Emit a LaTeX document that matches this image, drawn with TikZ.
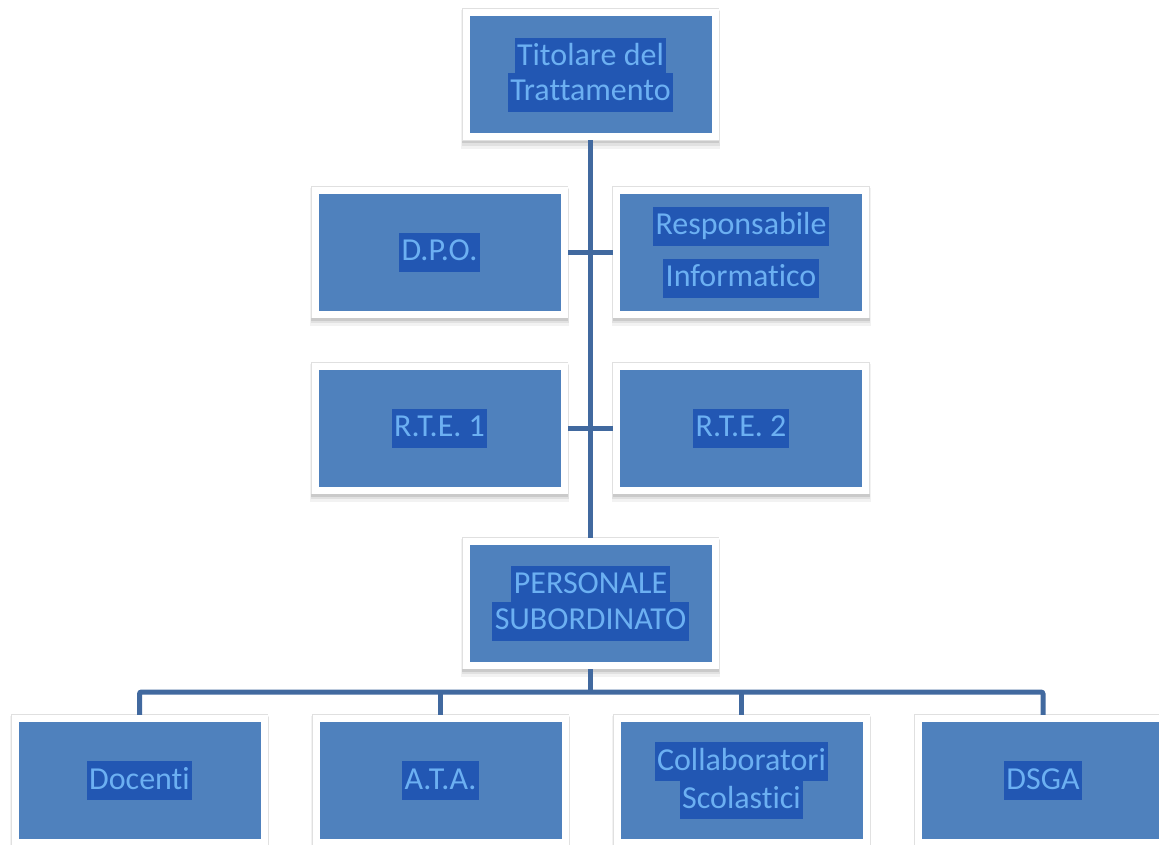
\documentclass[tikz,border=0pt]{standalone}
\usepackage{fontspec}
\setmainfont{Carlito}[Ligatures=NoCommon]
\usetikzlibrary{backgrounds}
\definecolor{boxblue}{HTML}{4F81BD}
\definecolor{hlblue}{HTML}{2257B3}
\definecolor{txtblue}{HTML}{6CB0F2}
\definecolor{connblue}{HTML}{41699F}
\newcommand{\hlt}[1]{{\setlength{\fboxsep}{0pt}\colorbox{hlblue}{\rule[-11pt]{0pt}{39pt}\hspace{2.5pt}#1\hspace{2.5pt}}}}
\newcommand{\orgfont}{\fontsize{32}{36}\selectfont\setlength{\lineskiplimit}{-50pt}\setlength{\lineskip}{0pt}}
\tikzset{
  orgbox/.style={rectangle, fill=boxblue, draw=white, line width=7pt,
    minimum width=249pt, minimum height=124pt, inner sep=0pt,
    align=center, text=txtblue, font=\orgfont},
  conn/.style={draw=connblue, line width=5pt},
  shade1/.style={fill=black, opacity=0.05},
  shade2/.style={fill=black, opacity=0.07},
  shade3/.style={fill=black, opacity=0.10},
  edge/.style={fill=black!12},
}
\begin{document}
\begin{tikzpicture}[x=1pt,y=-1pt]
\useasboundingbox (0,0) rectangle (1159,844);
\node[orgbox] (tit) at (590.5,74.5) {\hlt{Titolare del}\\[-1pt]\hlt{Trattamento}};
\node[orgbox] (dpo) at (439.5,252) {\hlt{D.P.O.}};
\node[orgbox] (resp) at (741,252) {\hlt{Responsabile}\\[16pt]\hlt{Informatico}};
\node[orgbox] (rte1) at (439.5,428) {\hlt{R.T.E. 1}};
\node[orgbox] (rte2) at (741,428) {\hlt{R.T.E. 2}};
\node[orgbox] (pers) at (590.5,603) {\hlt{PERSONALE}\\\hlt{SUBORDINATO}};
\node[orgbox] (doc) at (139.5,780.5) {\hlt{Docenti}};
\node[orgbox] (ata) at (440.5,780.5) {\hlt{A.T.A.}};
\node[orgbox] (coll) at (741.5,780.5) {\hlt{Collaboratori}\\[2pt]\hlt{Scolastici}};
\node[orgbox] (dsga) at (1043,780.5) {\hlt{DSGA}};
\coordinate (bus) at (0,692);
\begin{scope}[on background layer]
\foreach \n in {tit,dpo,resp,rte1,rte2,pers,doc,ata,coll,dsga} {
  \path[shade1] ([xshift=-1.5pt,yshift=-1pt]\n.north west) rectangle ([xshift=1.5pt,yshift=-8.5pt]\n.south east);
  \path[shade2] ([xshift=-1pt,yshift=-2pt]\n.north west) rectangle ([xshift=1pt,yshift=-5.5pt]\n.south east);
  \path[shade3] ([xshift=-0.5pt,yshift=-3pt]\n.north west) rectangle ([xshift=0.5pt,yshift=-3pt]\n.south east);
  \path[edge] ([xshift=-0.7pt,yshift=0.7pt]\n.north west) rectangle ([xshift=0.7pt,yshift=-0.7pt]\n.south east);
}
\draw[conn] (tit.south) -- (pers.north);
\draw[conn] (dpo.east) -- (resp.west);
\draw[conn] (rte1.east) -- (rte2.west);
\draw[conn] (pers.south) -- (pers.south |- bus);
\draw[conn, rounded corners=2pt] (doc.north) |- (dsga.north |- bus) -- (dsga.north);
\draw[conn] (ata.north) -- (ata.north |- bus);
\draw[conn] (coll.north) -- (coll.north |- bus);
\end{scope}
\end{tikzpicture}
\end{document}
